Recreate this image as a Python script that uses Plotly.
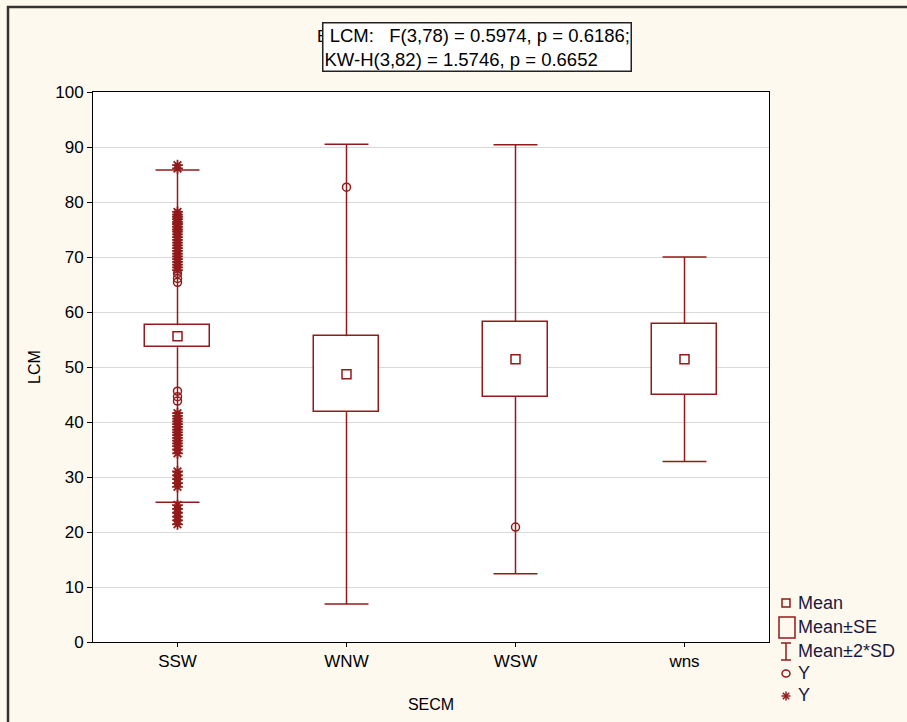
import plotly.graph_objects as go

# Groups and summary statistics of LCM by SECM
groups = ["SSW", "WNW", "WSW", "wns"]
means = [55.6, 48.7, 51.4, 51.4]
se = [2.0, 6.9, 6.8, 6.45]
sd = [15.1, 20.9, 19.5, 9.3]

# Individual observations flagged outside the whiskers (two marker styles)
ssw_circle = [67.0, 66.1, 65.4, 45.6, 44.6, 43.8]
ssw_star = [86.7, 86.1, 78.2, 77.7, 77.3, 76.9, 76.4, 76.0, 75.5, 75.0, 74.6,
            74.1, 73.6, 73.1, 72.6, 72.1, 71.6, 71.1, 70.6, 70.1, 69.6, 69.1,
            68.6, 68.1, 67.6, 41.6, 41.1, 40.6, 40.1, 39.6, 39.1, 38.6, 38.1,
            37.6, 37.1, 36.6, 36.1, 35.6, 35.0, 34.3, 31.0, 30.3, 29.6, 28.9,
            28.2, 24.9, 24.2, 23.5, 22.8, 22.1, 21.4]
wnw_circle = [82.7]
wsw_circle = [20.9]

RED = "#921A1A"
FONT = "Liberation Sans, Arial, sans-serif"
CAP = 0.13       # half width of whisker caps (category units)
BOXW = 0.39      # width of the Mean±SE box

idx = list(range(len(groups)))

fig = go.Figure()

# Mean ± SE boxes
fig.add_trace(go.Bar(
    x=idx,
    y=[2 * s for s in se],
    base=[m - s for m, s in zip(means, se)],
    width=BOXW,
    marker=dict(color="white", line=dict(color=RED, width=1.5)),
    showlegend=False, hoverinfo="skip",
))

# Mean ± 2*SD whiskers, drawn from the box edges outward, with caps
wx, wy = [], []
for i, m, s, d in zip(idx, means, se, sd):
    hi, lo = m + 2 * d, m - 2 * d
    wx += [i, i, None, i, i, None, i - CAP, i + CAP, None, i - CAP, i + CAP, None]
    wy += [m + s, hi, None, m - s, lo, None, hi, hi, None, lo, lo, None]
fig.add_trace(go.Scatter(
    x=wx, y=wy, mode="lines", line=dict(color=RED, width=1.5),
    showlegend=False, hoverinfo="skip",
))

# Means
fig.add_trace(go.Scatter(
    x=idx, y=means, mode="markers",
    marker=dict(symbol="square-open", size=9, color=RED, line=dict(width=1.5)),
    showlegend=False,
))

# Observations: open circles
cx = [0] * len(ssw_circle) + [1] * len(wnw_circle) + [2] * len(wsw_circle)
cy = ssw_circle + wnw_circle + wsw_circle
fig.add_trace(go.Scatter(
    x=cx, y=cy, mode="markers",
    marker=dict(symbol="circle-open", size=8, color=RED, line=dict(width=1.5)),
    showlegend=False,
))

# Observations: asterisks
fig.add_trace(go.Scatter(
    x=[0] * len(ssw_star), y=ssw_star, mode="markers",
    marker=dict(symbol="asterisk-open", size=9, color=RED, line=dict(width=1.8)),
    showlegend=False,
))

# Pixel helpers for decorations around the plot area
L, R, T, B = 93, 769, 92, 642


def px(x):
    return (x - L) / (R - L)


def py(y):
    return (B - y) / (B - T)


shapes = []
# outer frame of the graph window: left and top edges as one open path
shapes.append(dict(
    type="path", xref="paper", yref="paper",
    path=f"M {px(8)},{py(740)} L {px(8)},{py(7)} L {px(940)},{py(7)}",
    line=dict(color="#333333", width=2.5),
))

# legend icons
lc = dict(color=RED, width=1.5)
shapes.append(dict(type="rect", xref="paper", yref="paper",
                   x0=px(782), x1=px(790), y0=py(607), y1=py(599), line=lc))
shapes.append(dict(type="rect", xref="paper", yref="paper",
                   x0=px(779), x1=px(795), y0=py(638), y1=py(617), line=lc))
shapes.append(dict(type="line", xref="paper", yref="paper",
                   x0=px(786), x1=px(786), y0=py(660), y1=py(643), line=lc))
shapes.append(dict(type="line", xref="paper", yref="paper",
                   x0=px(781), x1=px(791), y0=py(643), y1=py(643), line=lc))
shapes.append(dict(type="line", xref="paper", yref="paper",
                   x0=px(781), x1=px(791), y0=py(660), y1=py(660), line=lc))
shapes.append(dict(type="circle", xref="paper", yref="paper",
                   x0=px(782), x1=px(790), y0=py(677), y1=py(670), line=lc))
ax0, ay0 = 786, 696
for dx, dy in [(0, 4.5), (4.5, 0), (3.2, 3.2), (3.2, -3.2)]:
    shapes.append(dict(type="line", xref="paper", yref="paper",
                       x0=px(ax0 - dx), x1=px(ax0 + dx),
                       y0=py(ay0 - dy), y1=py(ay0 + dy), line=lc))

annotations = []
legend_items = [("Mean", 603), ("Mean±SE", 627), ("Mean±2*SD", 651),
                ("Y", 673), ("Y", 695)]
for label, yy in legend_items:
    annotations.append(dict(
        xref="paper", yref="paper", x=px(796), y=py(yy),
        xanchor="left", yanchor="middle", showarrow=False, text=label,
        font=dict(family=FONT, size=18, color="#1A1A40"),
    ))

# chart title (partly covered by the statistics box)
annotations.append(dict(
    xref="paper", yref="paper", x=px(315), y=py(36),
    xanchor="left", yanchor="middle", showarrow=False,
    text="Box Plot of LCM grouped by SECM",
    font=dict(family=FONT, size=17, color="black"),
))
# test statistics box
annotations.append(dict(
    xref="paper", yref="paper", x=px(322), y=py(47),
    xanchor="left", yanchor="middle", showarrow=False, align="left",
    text="&nbsp;LCM:&nbsp;&nbsp; F(3,78) = 0.5974, p = 0.6186;<br>KW-H(3,82) = 1.5746, p = 0.6652",
    font=dict(family=FONT, size=18.5, color="black"),
    bgcolor="white", bordercolor="#222222", borderwidth=1.5, borderpad=1,
))

fig.update_layout(
    width=907, height=722,
    margin=dict(l=L, r=907 - R, t=T, b=722 - B),
    paper_bgcolor="#FEF9EF", plot_bgcolor="white",
    font=dict(family=FONT, size=17, color="black"),
    shapes=shapes, annotations=annotations,
    showlegend=False, bargap=0,
)
fig.update_xaxes(
    range=[-0.5, 3.5], tickvals=idx, ticktext=groups,
    showgrid=False, zeroline=False,
    showline=True, mirror=True, linecolor="black", linewidth=1,
    ticks="outside", ticklen=4, tickcolor="black",
    tickfont=dict(size=17),
    title=dict(text="SECM", font=dict(size=16), standoff=28),
)
fig.update_yaxes(
    range=[0, 100], dtick=10,
    showgrid=True, gridcolor="#D9D9D9", gridwidth=1, zeroline=False,
    showline=True, mirror=True, linecolor="black", linewidth=1,
    ticks="outside", ticklen=5, tickcolor="black",
    tickfont=dict(size=17),
    title=dict(text="LCM", font=dict(size=16), standoff=10),
)

fig.write_html("out.html", config={"displayModeBar": False})
